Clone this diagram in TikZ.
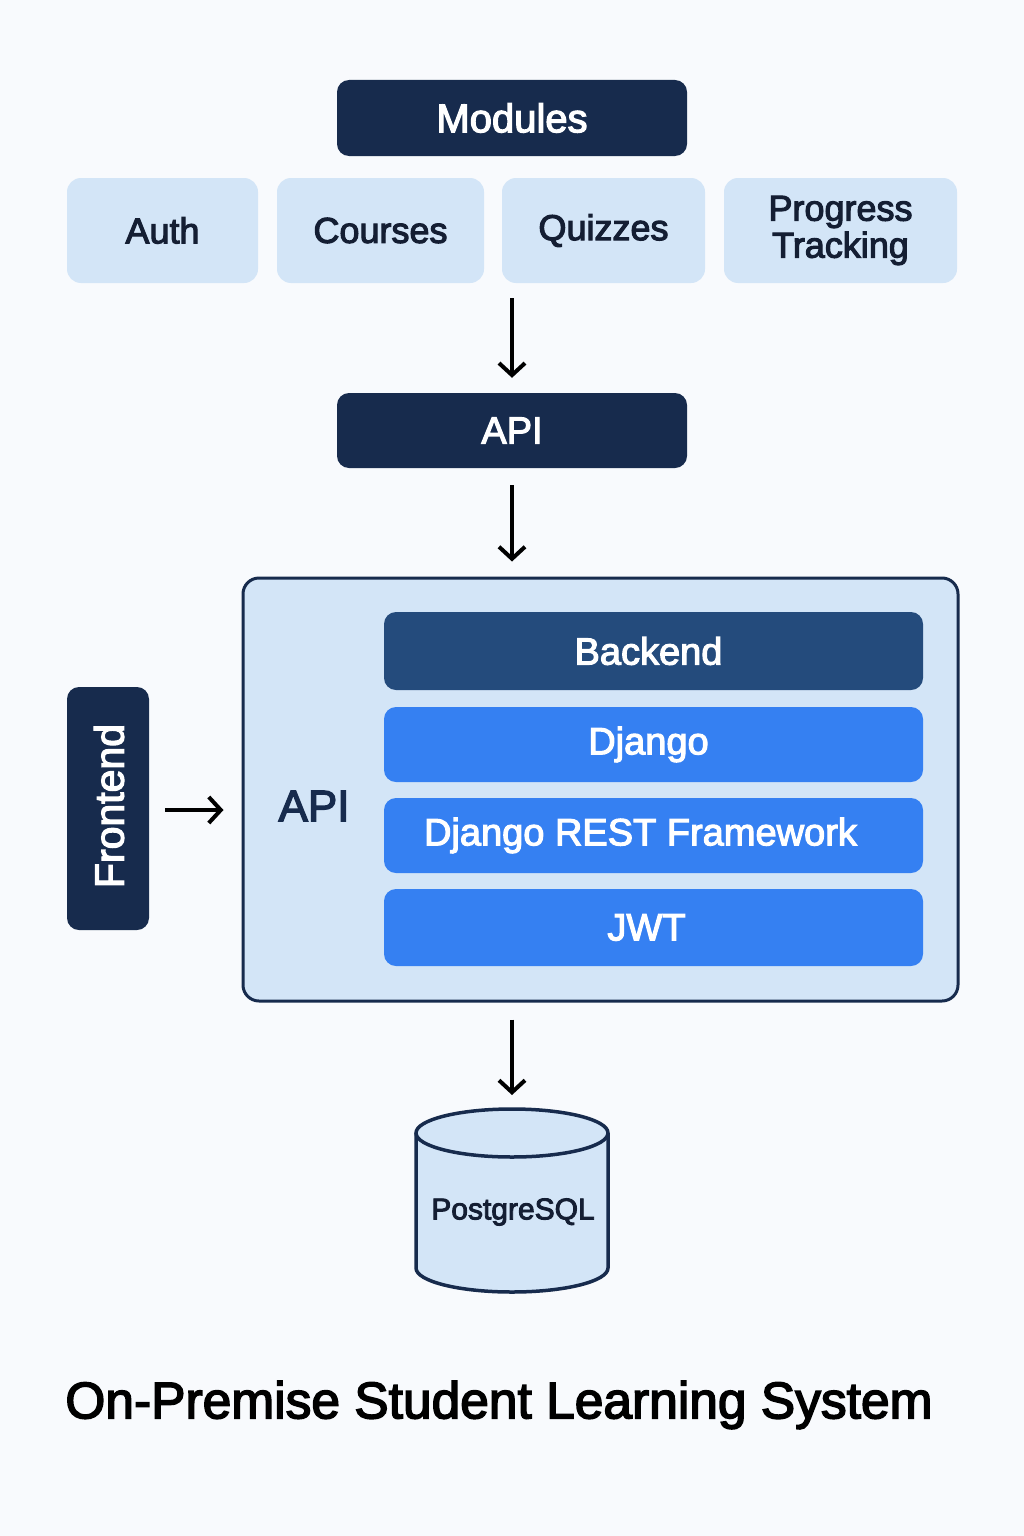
\documentclass[tikz,border=0pt]{standalone}
\usepackage{fontspec}
\setmainfont{Liberation Sans}
\newfontfamily\medfont{Liberation Sans}[FakeBold=3]
\usetikzlibrary{arrows.meta}
\definecolor{navy}{HTML}{172B4D}
\definecolor{lightb}{HTML}{D3E5F7}
\definecolor{backb}{HTML}{244B7C}
\definecolor{blueb}{HTML}{3580F2}
\definecolor{darktxt}{HTML}{141E33}
\definecolor{bgc}{HTML}{F8FAFD}
\tikzset{
  darkbox/.style={fill=navy, rounded corners=12pt, text=white, align=center, inner sep=0pt},
  modbox/.style={fill=lightb, rounded corners=14pt, text=darktxt, align=center, inner sep=0pt, minimum height=105pt, font=\medfont\fontsize{36}{37}\selectfont},
  layerbox/.style={rounded corners=12pt, text=white, inner sep=0pt, minimum width=539pt, font=\medfont\fontsize{38}{40}\selectfont},
  arr/.style={draw=black, line width=4pt, -{Straight Barb[length=12pt,width=26pt,line width=4pt]}},
}
\begin{document}
\begin{tikzpicture}[x=1pt,y=-1pt]
\fill[bgc] (0,0) rectangle (1024,1536);
\useasboundingbox (0,0) rectangle (1024,1536);

% Modules header
\node[darkbox, minimum width=350pt, minimum height=76pt, font=\medfont\fontsize{40}{40}\selectfont] (modules) at (512,118) {Modules};

% module boxes
\node[modbox, minimum width=191pt] (auth) at (162.5,230.5) {Auth};
\node[modbox, minimum width=207pt] (courses) at (380.5,230.5) {Courses};
\node[modbox, minimum width=203pt] (quizzes) at (603.5,230.5) {Quizzes};
\node[modbox, minimum width=233pt] (progress) at (840.5,230.5) {Progress\\Tracking};
\coordinate (mrow) at (512,283);

% API box
\node[darkbox, minimum width=350pt, minimum height=75pt, font=\medfont\fontsize{38}{38}\selectfont] (api) at (512,430.5) {API};

% container
\node[draw=navy, line width=3pt, fill=lightb, rounded corners=16pt, minimum width=715pt, minimum height=423pt, inner sep=0pt] (cont) at (600.5,789.5) {};
\node[text=navy, font=\medfont\fontsize{44}{44}\selectfont] (apilbl) at (314,806) {API};

\node[layerbox, fill=backb, minimum height=78pt] (backend) at (653.5,651) {\hspace*{-10pt}Backend};
\node[layerbox, fill=blueb, minimum height=75pt] (django) at (653.5,744.5) {\hspace*{-10pt}Django};
\node[layerbox, fill=blueb, minimum height=75pt] (drf) at (653.5,835.5) {\hspace*{-26pt}Django REST Framework};
\node[layerbox, fill=blueb, minimum height=77pt] (jwt) at (653.5,927.5) {\hspace*{-14pt}JWT};

% Frontend
\node[darkbox, minimum width=82pt, minimum height=243pt] (front) at (108,808.5) {};
\node[text=white, rotate=90, font=\medfont\fontsize{41}{41}\selectfont] (fronttxt) at (109,806) {Frontend};

% Database cylinder
\fill[lightb] (416,1133) -- (416,1268) arc[start angle=180, end angle=0, x radius=96, y radius=24] -- (608,1133) arc[start angle=0, end angle=-180, x radius=96, y radius=24] -- cycle;
\draw[navy, line width=3.5pt] (416,1133) -- (416,1268) arc[start angle=180, end angle=0, x radius=96, y radius=24] -- (608,1133);
\draw[navy, line width=3.5pt] (512,1133) ellipse[x radius=96, y radius=24];
\coordinate (dbtop) at (512,1109);
\node[text=darktxt, font=\medfont\fontsize{30}{30}\selectfont] (db) at (513,1212) {PostgreSQL};

% connectors
\draw[arr, shorten <=15pt, shorten >=15pt] (mrow) -- (api.north);
\draw[arr, shorten <=17pt, shorten >=15pt] (api.south) -- (cont.north -| api.south);
\draw[arr, shorten <=16pt, shorten >=18pt] (front.east |- 0,810) -- (cont.west |- 0,810);
\draw[arr, shorten <=17pt, shorten >=14pt] (cont.south -| dbtop) -- (dbtop);

% title
\node[text=black, font=\medfont\fontsize{51.5}{52}\selectfont] (title) at (499,1405) {On-Premise Student Learning System};
\end{tikzpicture}
\end{document}
